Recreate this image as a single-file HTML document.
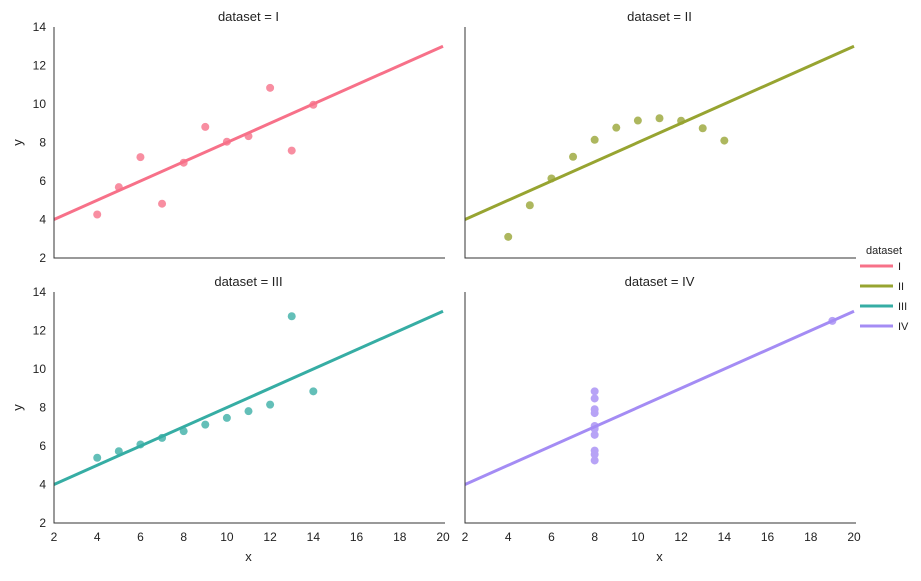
<!DOCTYPE html>
<html><head><meta charset="utf-8"><style>
body{margin:0;background:#fff;font-family:"Liberation Sans",sans-serif;}
svg text{font-family:"Liberation Sans",sans-serif;fill:#222;}
</style></head><body>
<svg id="chart" width="921" height="576" xmlns="http://www.w3.org/2000/svg"></svg>
<script>
const datasets = ["I","II","III","IV"];
const x123 = [10,8,13,9,11,14,6,4,12,7,5];
const yI = [8.04,6.95,7.58,8.81,8.33,9.96,7.24,4.26,10.84,4.82,5.68];
const yII = [9.14,8.14,8.74,8.77,9.26,8.10,6.13,3.10,9.13,7.26,4.74];
const yIII = [7.46,6.77,12.74,7.11,7.81,8.84,6.08,5.39,8.15,6.42,5.73];
const xIV = [8,8,8,8,8,8,8,19,8,8,8];
const yIV = [6.58,5.76,7.71,8.84,8.47,7.04,5.25,12.50,5.56,7.91,6.89];
const fitIntercept = [3,3,3,3];
const fitSlope = [0.5,0.5,0.5,0.5];
const xTicks = [2,4,6,8,10,12,14,16,18,20];
const yTicks = [2,4,6,8,10,12,14];

const lineColors = ["#f77189","#97a431","#36ada4","#a48cf4"];
const ptColors = ["#f88ea1","#adb75e","#63bfb8","#b7a3f6"];
const NS="http://www.w3.org/2000/svg";
const svg=document.getElementById('chart');
function mk(tag,attrs,parent){const e=document.createElementNS(NS,tag);for(const k in attrs)e.setAttribute(k,attrs[k]);(parent||svg).appendChild(e);return e;}
const panels=[
 {x0:54,x1:443,y0:258,y1:27,xs:x123,ys:yI,xl:false,yl:true},
 {x0:465,x1:854,y0:258,y1:27,xs:x123,ys:yII,xl:false,yl:false},
 {x0:54,x1:443,y0:523,y1:292,xs:x123,ys:yIII,xl:true,yl:true},
 {x0:465,x1:854,y0:523,y1:292,xs:xIV,ys:yIV,xl:true,yl:false}];
panels.forEach((p,i)=>{
 const sx=v=>p.x0+(v-2)/18*(p.x1-p.x0);
 const sy=v=>p.y0+(v-2)/12*(p.y1-p.y0);
 const g=mk('g',{});
 
 
 const t=mk('text',{x:(p.x0+p.x1)/2,y:p.y1-6,'text-anchor':'middle','font-size':13},g);
 t.textContent='dataset = '+datasets[i];
 
 
 p.xs.forEach((xv,j)=>{
  const c=mk('circle',{cx:sx(xv),cy:sy(p.ys[j]),r:4,fill:ptColors[i]},g);
  
  
 });
 const l=mk('line',{x1:sx(2),y1:sy(fitIntercept[i]+fitSlope[i]*2),x2:sx(20),y2:sy(fitIntercept[i]+fitSlope[i]*20),stroke:lineColors[i],'stroke-width':3},g);
 
 
 const ax=mk('path',{d:`M${p.x0} ${p.y1}V${p.y0}H${p.x1+2}`,stroke:'#333','stroke-width':1,fill:'none'},g);
 
 
 if(p.yl){yTicks.forEach(v=>{const tt=mk('text',{x:p.x0-8,y:sy(v)+4,'text-anchor':'end','font-size':12},g);tt.textContent=v;
  
  });
  const yt=mk('text',{x:22,y:(p.y0+p.y1)/2,'text-anchor':'middle','font-size':13,transform:`rotate(-90 22 ${(p.y0+p.y1)/2})`},g);yt.textContent='y';
  
  }
 if(p.xl){xTicks.forEach(v=>{const tt=mk('text',{x:sx(v),y:p.y0+18,'text-anchor':'middle','font-size':12},g);tt.textContent=v;
  
  });
  const xt=mk('text',{x:(p.x0+p.x1)/2,y:561,'text-anchor':'middle','font-size':13},g);xt.textContent='x';
  
  }
});
const lg=mk('g',{});


const lt=mk('text',{x:866,y:254,'font-size':11},lg);lt.textContent='dataset';


datasets.forEach((d,i)=>{
 const y=266+i*20;
 const ln=mk('line',{x1:860,y1:y,x2:893,y2:y,stroke:lineColors[i],'stroke-width':3},lg);
 
 
 const tx=mk('text',{x:898,y:y+4,'font-size':11},lg);tx.textContent=d;
 
 
});
</script>
</body></html>
